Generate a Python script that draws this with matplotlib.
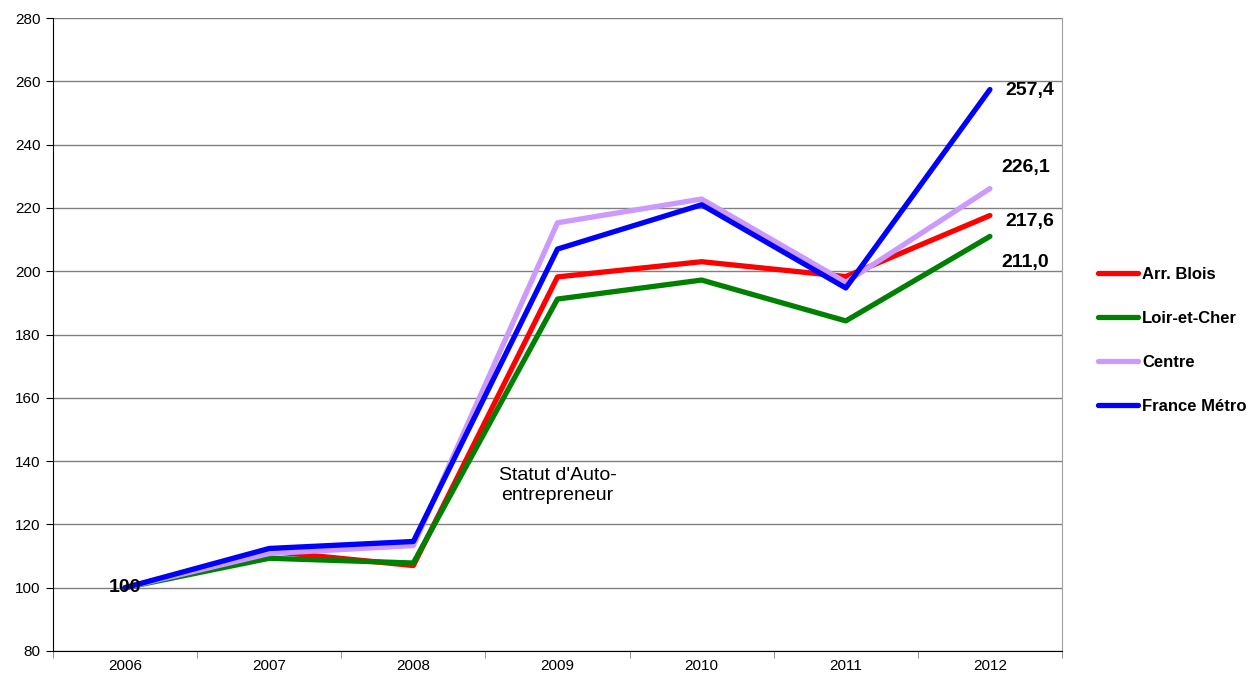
import matplotlib.pyplot as plt
import numpy as np

plt.rcParams['font.family'] = ['Liberation Sans', 'DejaVu Sans']

years = ['2006', '2007', '2008', '2009', '2010', '2011', '2012']
arr_blois = [100, 111.5, 107.0, 198.2, 203.0, 198.3, 217.6]
loir_et_cher = [100, 109.3, 107.8, 191.2, 197.2, 184.3, 211.0]
centre = [100, 110.8, 113.3, 215.3, 222.8, 196.5, 226.1]
france_metro = [100, 112.4, 114.6, 207.0, 221.0, 194.7, 257.4]

series = [
    ('Arr. Blois', arr_blois, '#ff0000'),
    ('Loir-et-Cher', loir_et_cher, '#008000'),
    ('Centre', centre, '#cc99ff'),
    ('France Métro', france_metro, '#0000ff'),
]

fig = plt.figure(figsize=(12.48, 6.77), dpi=100)
ax = fig.add_axes([53 / 1248, 26 / 677, 1009 / 1248, 633 / 677])

x = np.arange(len(years)) + 0.5
for name, vals, color in series:
    ax.plot(x, vals, color=color, linewidth=3.8, label=name, solid_capstyle='round')

ax.set_xlim(0, len(years))
ax.set_ylim(80, 280)
ax.set_yticks(range(80, 281, 20))
ax.set_xticks(x)
ax.set_xticklabels(years)
ax.set_xticks(np.arange(len(years) + 1), minor=True)
ax.tick_params(axis='x', which='major', length=0, pad=6, labelsize=11)
ax.tick_params(axis='x', which='minor', length=5, color='#808080')
ax.tick_params(axis='y', length=5, labelsize=11, pad=4)
ax.grid(axis='y', color='#808080', linewidth=1)
ax.set_axisbelow(True)
ax.spines['top'].set_visible(False)
ax.spines['right'].set_color('#a0a0a0')
ax.spines['left'].set_color('black')
ax.spines['bottom'].set_color('black')

# end labels
end_offsets = {'France Métro': (11, -1), 'Centre': (8, 15), 'Arr. Blois': (11, -4), 'Loir-et-Cher': (8, -19)}
for name, vals, color in series:
    dx, dy = end_offsets[name]
    ax.annotate(f'{vals[-1]:.1f}'.replace('.', ','), (x[-1], vals[-1]),
                xytext=(dx, dy), textcoords='offset points',
                fontsize=14, fontweight='bold', va='center', ha='left')

ax.annotate('100', (x[0], 100), xytext=(0, 0), textcoords='offset points',
            fontsize=14, fontweight='bold', va='center', ha='center')

ax.text(3.5, 132.2, "Statut d'Auto-\nentrepreneur", ha='center', va='center', fontsize=14)

ax.legend(loc='center left', bbox_to_anchor=(1.0357, 0.49), frameon=False,
          borderpad=0, borderaxespad=0,
          prop={'weight': 'bold', 'size': 12}, handlelength=2.4,
          handletextpad=0.25, labelspacing=1.74)

plt.savefig('out.png', dpi=100)
